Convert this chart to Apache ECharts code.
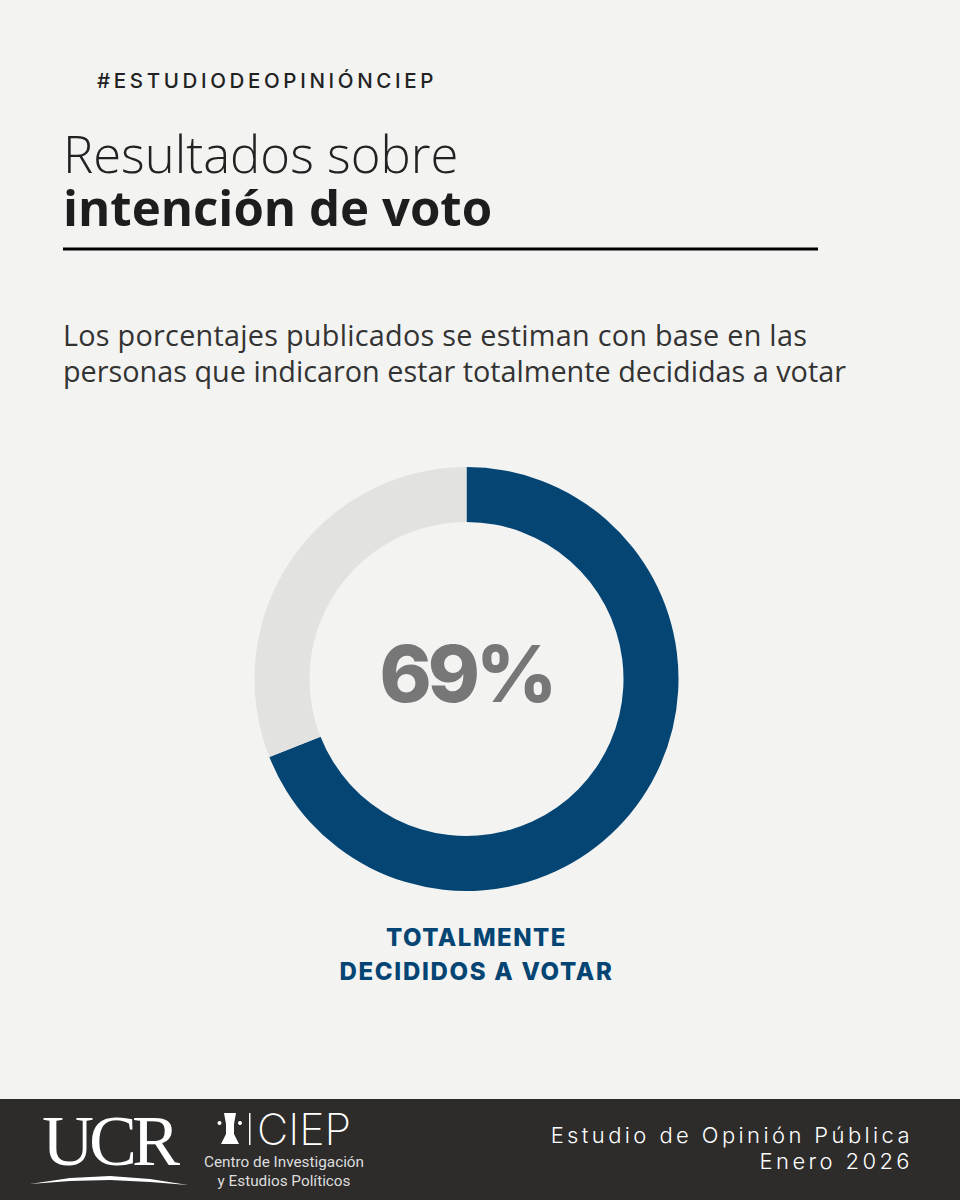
<!DOCTYPE html>
<html><head><meta charset="utf-8">
<style>html,body{margin:0;padding:0;background:#f3f3f2}#c{width:960px;height:1200px}</style>
<script src="https://cdn.jsdelivr.net/npm/echarts@6/dist/echarts.min.js"></script>
</head><body><div id="c"></div>
<script>
const categories = ['Totalmente decididos a votar', 'Resto'];
const values = [69, 31];
const centerLabel = '69%';
const hashtag = '#ESTUDIODEOPINIÓNCIEP';
const titleLight = 'Resultados sobre';
const titleBold = 'intención de voto';
const subtitle = ['Los porcentajes publicados se estiman con base en las', 'personas que indicaron estar totalmente decididas a votar'];
const caption = ['TOTALMENTE', 'DECIDIDOS A VOTAR'];
const footer = ['Estudio de Opinión Pública', 'Enero 2026'];

const OS = '"Open Sans"';
const t = (x, y, text, font, size, weight, fill, align) => ({
  type: 'text', x, y: y - size * 0.88, silent: true,
  style: { text, fontFamily: font, fontSize: size, fontWeight: weight, fill, align: align || 'left' }
});
const chart = echarts.init(document.getElementById('c'), null, { renderer: 'svg', width: 960, height: 1200 });
chart.setOption({
  animation: false,
  backgroundColor: '#f3f3f2',
  series: [{
    type: 'pie', center: [466.5, 679], radius: [157, 212], startAngle: 90, clockwise: true,
    label: { show: false }, labelLine: { show: false }, silent: true,
    data: categories.map((name, i) => ({ name, value: values[i], itemStyle: { color: ['#054574', '#e2e2e0'][i] } }))
  }],
  graphic: [
    t(97, 88, hashtag, 'Inter', 20.5, 500, '#222'),
    t(63, 173, titleLight, OS, 50.8, 300, '#222'),
    t(63, 225, titleBold, OS, 49.2, 700, '#1d1d1d'),
    { type: 'rect', silent: true, shape: { x: 63, y: 247.5, width: 755, height: 3 }, style: { fill: '#000' } },
    t(63, 345, subtitle[0], OS, 28.8, 400, '#333'),
    t(63, 381, subtitle[1], OS, 28.8, 400, '#333'),
    t(466.5, 703, centerLabel, 'Inter', 79, 800, '#777', 'center'),
    t(476.5, 947, caption[0], 'Inter', 24, 800, '#054574', 'center'),
    t(476.5, 981, caption[1], 'Inter', 24, 800, '#054574', 'center'),
    { type: 'rect', silent: true, shape: { x: 0, y: 1099, width: 960, height: 101 }, style: { fill: '#2d2c2b' } },
    t(42, 1168, 'UCR', '"Liberation Serif"', 72, 400, '#fff'),
    { type: 'polygon', silent: true, shape: { points: [[30, 1184], [70, 1178], [110, 1176], [150, 1179], [188, 1185], [150, 1182], [110, 1180], [70, 1181]] }, style: { fill: '#fff' } },
    { type: 'polygon', silent: true, shape: { points: [[224, 1113], [236, 1113], [234, 1124], [234, 1134], [239, 1144], [221, 1144], [226, 1134], [226, 1124]] }, style: { fill: '#fff' } },
    { type: 'circle', silent: true, shape: { cx: 219.5, cy: 1123, r: 2 }, style: { fill: '#fff' } },
    { type: 'circle', silent: true, shape: { cx: 240, cy: 1123, r: 2 }, style: { fill: '#fff' } },
    { type: 'rect', silent: true, shape: { x: 249, y: 1113, width: 1.5, height: 32 }, style: { fill: '#fff' } },
    t(257, 1145, 'CIEP', 'Inter', 43, 200, '#fff'),
    t(284, 1168, 'Centro de Investigación', 'Roboto', 15.3, 400, '#ddd', 'center'),
    t(284, 1187, 'y Estudios Políticos', 'Roboto', 15.3, 400, '#ddd', 'center'),
    t(913, 1143, footer[0], 'Inter', 22, 300, '#fff', 'right'),
    t(913, 1169, footer[1], 'Inter', 22, 300, '#fff', 'right')
  ]
});
const spacing = new Map([[hashtag, '3.65px'], [footer[0], '3.4px'], [footer[1], '3.4px'], [centerLabel, '-4px'], ['UCR', '-5px'], [caption[0], '1.5px'], [caption[1], '1.7px'], [subtitle[0], '0.26px']]);
document.querySelectorAll('#c text').forEach(el => {
  const s = spacing.get(el.textContent);
  if (s) el.style.letterSpacing = s;
});
</script></body></html>
